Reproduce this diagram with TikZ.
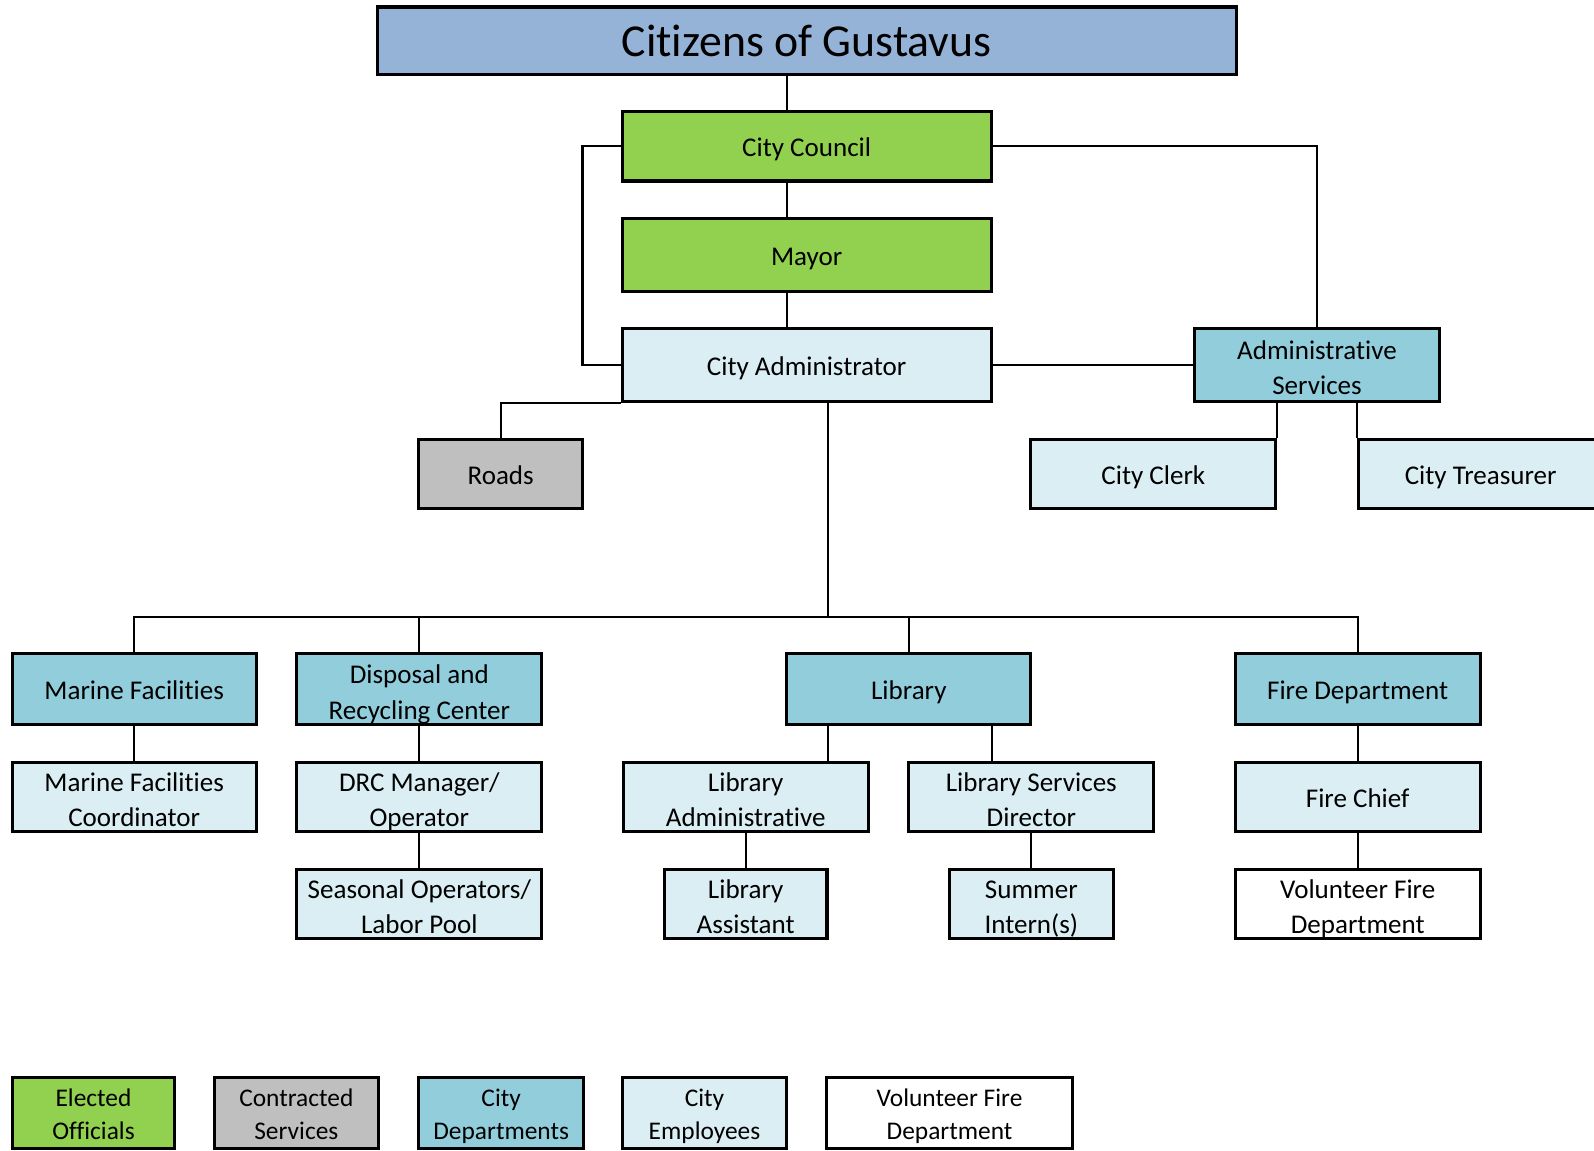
\documentclass[tikz,border=0pt]{standalone}
\usepackage{fontspec}
\setmainfont{Carlito}[Ligatures=NoCommon]
\definecolor{titleblue}{HTML}{95B3D7}
\definecolor{elected}{HTML}{92D050}
\definecolor{dept}{HTML}{92CDDC}
\definecolor{employee}{HTML}{DAEEF3}
\definecolor{contract}{HTML}{BFBFBF}
\newcommand\twol[2]{\raisebox{-19pt}[0pt][0pt]{\begin{tabular}[b]{@{}c@{}}#1\\#2\end{tabular}}}
\newcommand\twoleg[2]{\raisebox{-16.5pt}[0pt][0pt]{\begin{tabular}[b]{@{}c@{}}#1\\#2\end{tabular}}}
\tikzset{
  box/.style={draw=black, line width=3.2pt, align=center, inner sep=0pt,
    font=\fontsize{26.6}{35}\selectfont, text=black,
    execute at begin node={\rule{0pt}{25pt}},
    execute at end node={\rule[-4pt]{0pt}{4pt}}},
  legendbox/.style={draw=black, line width=3.2pt, align=center, inner sep=0pt,
    font=\fontsize{25}{33}\selectfont, text=black,
    execute at begin node={\rule{0pt}{23pt}},
    execute at end node={\rule[-4pt]{0pt}{4pt}}},
  titlebox/.style={draw=black, line width=3.2pt, align=center, inner sep=0pt,
    font=\fontsize{45}{50}\selectfont, text=black,
    execute at begin node={\rule{0pt}{36pt}},
    execute at end node={\rule[-4pt]{0pt}{4pt}}},
  conn/.style={draw=black, line width=2pt},
}
\begin{document}
\begin{tikzpicture}[x=1pt,y=-1pt]
\useasboundingbox[fill=white] (0,0) rectangle (1568,1132);
% helper coordinates
\coordinate (spine) at (774,0);
\coordinate (leftbus) at (573,0);
\coordinate (trunk) at (814.5,0);
\coordinate (bus) at (0,607);
\coordinate (libr) at (976,0);

% top
\node[titlebox, fill=titleblue, minimum width=845pt, minimum height=66pt] (title) at (793.5,40) {Citizens of Gustavus};
\node[box, fill=elected, minimum width=363pt, minimum height=68pt] (CC) at (793.5,144) {City Council};
\node[box, fill=elected, minimum width=363pt, minimum height=72pt] (Mayor) at (793.5,251) {Mayor};
\node[box, fill=employee, minimum width=363pt, minimum height=72pt] (CA) at (793.5,359) {City Administrator};
\node[box, fill=dept, minimum width=241pt, minimum height=72pt] (AS) at (1295.5,359) {\twol{Administrative}{Services}};
\node[box, fill=contract, minimum width=161pt, minimum height=68pt] (Roads) at (492.5,466) {Roads};
\node[box, fill=employee, minimum width=241pt, minimum height=68pt] (Clerk) at (1134.5,466) {City Clerk};
\node[box, fill=employee, minimum width=241pt, minimum height=68pt] (Tr) at (1456.5,466) {City Treasurer};

% row 2
\node[box, fill=dept, minimum width=240pt, minimum height=70pt] (MF) at (132,678) {Marine Facilities};
\node[box, fill=dept, minimum width=241pt, minimum height=70pt] (DRC) at (412.5,678) {\twol{Disposal and}{Recycling Center}};
\node[box, fill=dept, minimum width=240pt, minimum height=70pt] (Lib) at (894,678) {Library};
\node[box, fill=dept, minimum width=241pt, minimum height=70pt] (Fire) at (1335.5,678) {Fire Department};

% row 3
\node[box, fill=employee, minimum width=240pt, minimum height=68pt] (MFC) at (132,784) {\twol{Marine Facilities}{Coordinator}};
\node[box, fill=employee, minimum width=241pt, minimum height=68pt] (DRCM) at (412.5,784) {\twol{DRC Manager/}{Operator}};
\node[box, fill=employee, minimum width=241pt, minimum height=68pt] (LA) at (733.5,784) {\twol{Library}{Administrative}};
\node[box, fill=employee, minimum width=241pt, minimum height=68pt] (LSD) at (1014.5,784) {\twol{Library Services}{Director}};
\node[box, fill=employee, minimum width=241pt, minimum height=68pt] (FC) at (1335.5,784) {Fire Chief};

% row 4
\node[box, fill=employee, minimum width=241pt, minimum height=68pt] (SO) at (412.5,889) {\twol{Seasonal Operators/}{Labor Pool}};
\node[box, fill=employee, minimum width=160pt, minimum height=68pt] (LAs) at (733.5,889) {\twol{Library}{Assistant}};
\node[box, fill=employee, minimum width=161pt, minimum height=68pt] (SI) at (1014.5,889) {\twol{Summer}{Intern(s)}};
\node[box, fill=white, minimum width=241pt, minimum height=68pt] (VFD) at (1335.5,889) {\twol{Volunteer Fire}{Department}};

% legend
\node[legendbox, fill=elected, minimum width=160pt, minimum height=70pt] (L1) at (92,1095) {\twoleg{Elected}{Officials}};
\node[legendbox, fill=contract, minimum width=161pt, minimum height=70pt] (L2) at (291.5,1095) {\twoleg{Contracted}{Services}};
\node[legendbox, fill=dept, minimum width=162pt, minimum height=70pt] (L3) at (493,1095) {\twoleg{City}{Departments}};
\node[legendbox, fill=employee, minimum width=162pt, minimum height=70pt] (L4) at (693,1095) {\twoleg{City}{Employees}};
\node[legendbox, fill=white, minimum width=242pt, minimum height=70pt] (L5) at (934,1095) {\twoleg{Volunteer Fire}{Department}};

% connectors
\draw[conn] (title.south -| spine) -- (CC.north -| spine);
\draw[conn] (CC.south -| spine) -- (Mayor.north -| spine);
\draw[conn] (Mayor.south -| spine) -- (CA.north -| spine);
\draw[conn] (CC.west) -- (CC.west -| leftbus) -- (CA.west -| leftbus) -- (CA.west);
\draw[conn] (CC.east) -| (AS.north);
\draw[conn] (CA.east) -- (AS.west);
\draw[conn] (CA.south west) -| (Roads.north);
\draw[conn] (AS.south -| Clerk.north east) -- (Clerk.north east);
\draw[conn] (AS.south -| Tr.north west) -- (Tr.north west);
\draw[conn] (CA.south -| trunk) -- (trunk |- bus);
\draw[conn] (MF.north) -- (MF.north |- bus) -- (Fire.north |- bus) -- (Fire.north);
\draw[conn] (DRC.north) -- (DRC.north |- bus);
\draw[conn] (Lib.north) -- (Lib.north |- bus);
\draw[conn] (MF.south) -- (MFC.north);
\draw[conn] (DRC.south) -- (DRCM.north);
\draw[conn] (DRCM.south) -- (SO.north);
\draw[conn] (Lib.south -| trunk) -- (LA.north -| trunk);
\draw[conn] (Lib.south -| libr) -- (LSD.north -| libr);
\draw[conn] (LA.south) -- (LAs.north);
\draw[conn] (LSD.south) -- (SI.north);
\draw[conn] (Fire.south) -- (FC.north);
\draw[conn] (FC.south) -- (VFD.north);
\end{tikzpicture}
\end{document}
